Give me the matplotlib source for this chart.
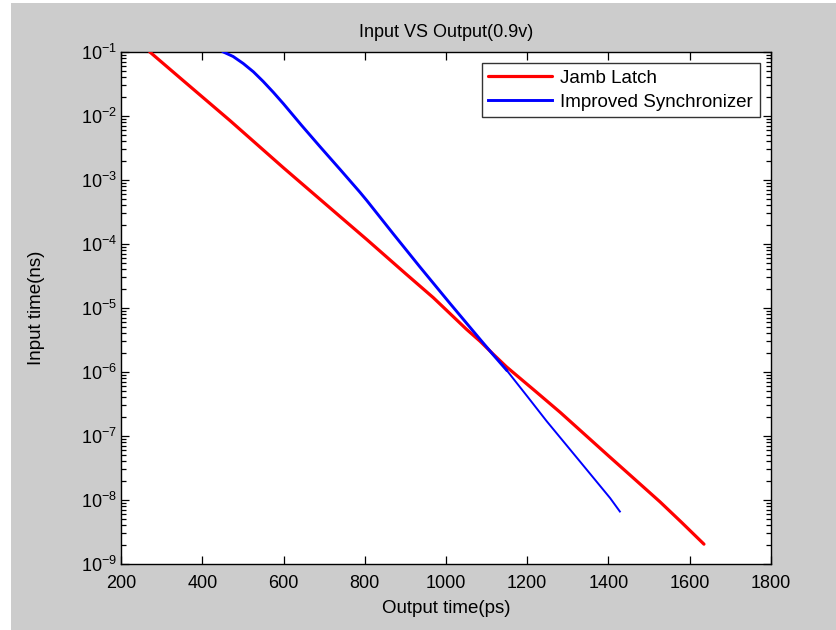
import matplotlib
matplotlib.use("Agg")
import matplotlib.pyplot as plt
import matplotlib.patches as mpatches
from matplotlib.ticker import LogLocator, FixedLocator, NullLocator, LogFormatterSciNotation

# Output time (ps) vs input time (ns), Jamb latch and improved synchronizer at 0.9 V
jamb_ps = [271, 350, 468, 600, 739, 805, 900, 969, 1050, 1084, 1116, 1149,
           1220, 1281, 1330, 1400, 1453, 1527, 1580, 1635]
jamb_log_ns = [-1.00, -1.43, -2.07, -2.81, -3.57, -3.93, -4.46, -4.84, -5.33,
               -5.52, -5.72, -5.92, -6.30, -6.63, -6.91, -7.31, -7.61, -8.03,
               -8.35, -8.69]

sync_ps = [452, 476, 501, 526, 550, 575, 600, 645, 690, 740, 788, 805, 870,
           936, 1010, 1084, 1116, 1149, 1200, 1248, 1330, 1404, 1428]
sync_log_ns = [-1.00, -1.07, -1.18, -1.31, -1.46, -1.63, -1.81, -2.15, -2.48,
               -2.84, -3.19, -3.32, -3.84, -4.36, -4.93, -5.49, -5.73, -5.97,
               -6.38, -6.77, -7.40, -7.97, -8.18]

jamb_ns = [10 ** v for v in jamb_log_ns]
sync_ns = [10 ** v for v in sync_log_ns]

title = "Input VS Output(0.9v)"
xlabel = "Output time(ps)"
ylabel = "Input time(ns)"
legend_labels = ["Jamb Latch", "Improved Synchronizer"]
x_ticks = [200, 400, 600, 800, 1000, 1200, 1400, 1600, 1800]

family = "Liberation Sans"
plt.rcParams["font.family"] = [family, "DejaVu Sans"]
plt.rcParams["mathtext.fontset"] = "custom"
plt.rcParams["mathtext.rm"] = family
plt.rcParams["mathtext.it"] = family
plt.rcParams["mathtext.bf"] = family
plt.rcParams["mathtext.sf"] = family

W, H = 837, 630
fig = plt.figure(figsize=(W / 100, H / 100), dpi=100, facecolor="white")
# grey window area
fig.patches.append(mpatches.Rectangle((11 / W, 0), 1 - 11 / W, 1 - 3 / H,
                                      transform=fig.transFigure, facecolor="#cccccc",
                                      edgecolor="none", zorder=-10))

ax = fig.add_axes([121 / W, 66 / H, 650 / W, 512 / H])
ax.set_facecolor("white")

ax.plot(jamb_ps, jamb_ns, color="#ff0000", lw=2.3, label=legend_labels[0],
        solid_joinstyle="round", solid_capstyle="round", zorder=3)
split = sync_ps.index(1149)
ax.plot(sync_ps[:split + 1], sync_ns[:split + 1], color="#0000ff", lw=2.1,
        label=legend_labels[1], solid_joinstyle="round", zorder=4)
ax.plot(sync_ps[split:], sync_ns[split:], color="#0000ff", lw=1.4,
        solid_joinstyle="round", zorder=4)

ax.set_yscale("log")
ax.set_xlim(200, 1800)
ax.set_ylim(1e-9, 1e-1)
ax.xaxis.set_major_locator(FixedLocator(x_ticks))
ax.xaxis.set_minor_locator(NullLocator())
ax.yaxis.set_major_locator(LogLocator(base=10, numticks=20))
ax.yaxis.set_minor_locator(LogLocator(base=10, subs=range(2, 10), numticks=20))
ax.yaxis.set_major_formatter(LogFormatterSciNotation())

for s in ax.spines.values():
    s.set_linewidth(1.0)
    s.set_color("black")

ax.tick_params(which="both", direction="in", top=True, right=True, width=0.9,
               colors="black", labelsize=13)
ax.tick_params(which="major", length=6)
ax.tick_params(which="minor", length=3.5)
ax.tick_params(axis="x", which="major", pad=8)
ax.tick_params(axis="y", which="major", pad=3)

ax.set_title(title, fontsize=13, pad=11)
ax.set_xlabel(xlabel, fontsize=13.5, labelpad=6)
ax.set_ylabel(ylabel, fontsize=13.5, labelpad=26)

leg = ax.legend(loc="upper right", fontsize=13.5, frameon=True, fancybox=False,
                edgecolor="black", borderaxespad=0.6, handlelength=3.4,
                handletextpad=0.45, borderpad=0.35, labelspacing=0.35)
leg.get_frame().set_linewidth(1.0)

fig.savefig("out.png", dpi=100, facecolor=fig.get_facecolor())
